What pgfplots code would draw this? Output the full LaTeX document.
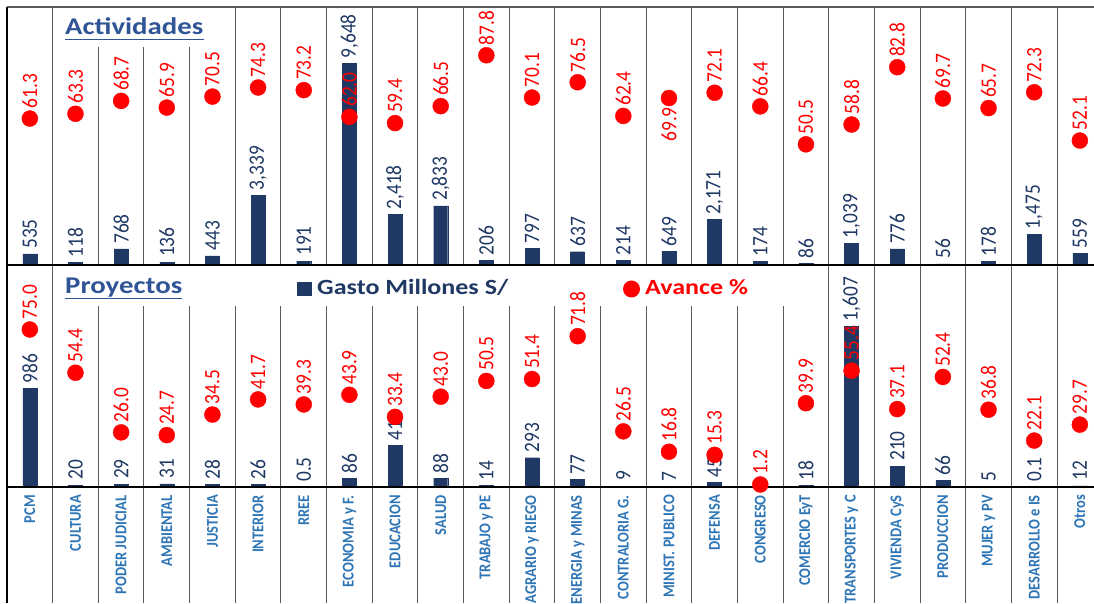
\documentclass[border=0pt]{standalone}
\usepackage{pgfplots}
\pgfplotsset{compat=1.18}
\usepackage{pgfplotstable}
\usepackage{fontspec}
\setmainfont{Carlito}
\newfontfamily\rotf[FakeStretch=0.88]{Carlito}
\newfontfamily\horf[FakeStretch=1.2]{Carlito}
\definecolor{navy}{RGB}{31,56,100}
\definecolor{titblue}{RGB}{47,85,151}
\definecolor{catblue}{RGB}{46,117,182}
\definecolor{sep}{RGB}{90,90,90}

\pgfplotstableread{
x g gl a
0 535 535 61.3
1 118 118 63.3
2 768 768 68.7
3 136 136 65.9
4 443 443 70.5
5 3339 3,339 74.3
6 191 191 73.2
7 9648 9,648 62.0
8 2418 2,418 59.4
9 2833 2,833 66.5
10 206 206 87.8
11 797 797 70.1
12 637 637 76.5
13 214 214 62.4
14 649 649 69.9
15 2171 2,171 72.1
16 174 174 66.4
17 86 86 50.5
18 1039 1,039 58.8
19 776 776 82.8
20 56 56 69.7
21 178 178 65.7
22 1475 1,475 72.3
23 559 559 52.1
}\act

\pgfplotstableread{
x g gl a
0 986 986 75.0
1 20 20 54.4
2 29 29 26.0
3 31 31 24.7
4 28 28 34.5
5 26 26 41.7
6 0.5 0.5 39.3
7 86 86 43.9
8 414 414 33.4
9 88 88 43.0
10 14 14 50.5
11 293 293 51.4
12 77 77 71.8
13 9 9 26.5
14 7 7 16.8
15 45 45 15.3
16 0 0 1.2
17 18 18 39.9
18 1607 1,607 55.4
19 210 210 37.1
20 66 66 52.4
21 5 5 36.8
22 0.1 0.1 22.1
23 12 12 29.7
}\proy

\pgfplotsset{
  panel/.style={scale only axis, width=1087pt, xmin=-0.5, xmax=23.31, ymin=0,
    axis line style={draw=none}, ytick=\empty, clip=false},
  barlbl/.style={nodes near coords, point meta=explicit symbolic,
    every node near coord/.append style={rotate=90, anchor=west, inner xsep=5pt, inner ysep=0pt,
      text=navy, font=\rotf\fontsize{22}{22}\selectfont}},
  dotlbl/.style={only marks, mark=*, mark size=8pt, mark options={fill=red, draw=red},
    nodes near coords, point meta=explicit symbolic,
    every node near coord/.append style={rotate=90, anchor=west, inner xsep=10pt, inner ysep=0pt,
      text=red, font=\rotf\fontsize{22}{22}\selectfont}},
}

\begin{document}
\begin{tikzpicture}
\useasboundingbox (0,0) rectangle (1094pt,603pt);
% top bars
\begin{axis}[panel, at={(7pt,338pt)}, anchor=south west, height=258pt, ymax=12360,
  ybar, bar width=14pt, bar shift=0pt,
  xtick={0,...,23}, xticklabels={}, minor xtick={0.5,1.5,...,22.5},
  xminorgrids, minor grid style={sep, line width=1pt}, tick style={draw=none}]
\addplot[fill=navy, draw=navy, barlbl] table[x=x, y=g, meta=gl] {\act};
\end{axis}
% bottom bars
\begin{axis}[panel, at={(7pt,116pt)}, anchor=south west, height=222pt, ymax=2220,
  ybar, bar width=14pt, bar shift=0pt,
  xtick={0,...,23},
  xticklabels={PCM, CULTURA, PODER JUDICIAL, AMBIENTAL, JUSTICIA, INTERIOR, RREE,
    ECONOMIA y F., EDUCACION, SALUD, TRABAJO y PE, AGRARIO y RIEGO, ENERGIA y MINAS,
    CONTRALORIA G., MINIST. PUBLICO, DEFENSA, CONGRESO, COMERCIO EyT, TRANSPORTES y C,
    VIVIENDA CyS, PRODUCCION, MUJER y PV, DESARROLLO e IS, Otros},
  xticklabel style={rotate=90, anchor=east, inner xsep=8pt, inner ysep=0pt, text=catblue,
    font=\rotf\bfseries\fontsize{16.5}{17}\selectfont},
  minor xtick={0.5,1.5,...,22.5},
  xminorgrids, minor grid style={sep, line width=1pt},
  xtick pos=bottom, tick align=outside, major tick length=0pt, minor tick length=116pt,
  major tick style={draw=none}, minor tick style={draw=sep, line width=1pt}]
\addplot[fill=navy, draw=navy, barlbl, skip coords between index={16}{17}] table[x=x, y=g, meta=gl] {\proy};
\end{axis}
% white boxes, titles and legend
\fill[white] (56pt,556pt) rectangle (233pt,595pt);
\fill[white] (56pt,297pt) rectangle (828pt,337pt);
\node[anchor=base west, inner sep=0pt, text=titblue, font=\horf\bfseries\fontsize{24}{24}\selectfont] (ta) at (65pt,568pt) {Actividades};
\draw[titblue, line width=1.5pt] ([yshift=-4.5pt]ta.base west) -- ([yshift=-4.5pt]ta.base east);
\node[anchor=base west, inner sep=0pt, text=titblue, font=\horf\bfseries\fontsize{24}{24}\selectfont] (tp) at (65pt,309pt) {Proyectos};
\draw[titblue, line width=1.5pt] ([yshift=-4.5pt]tp.base west) -- ([yshift=-4.5pt]tp.base east);
\fill[navy] (297pt,307pt) rectangle (312pt,321pt);
\node[anchor=base west, inner sep=0pt, text=navy, font=\horf\bfseries\fontsize{21.7}{22}\selectfont] at (317pt,308pt) {Gasto Millones S/};
\fill[red] (631.5pt,314pt) circle (8.5pt);
\node[anchor=base west, inner sep=0pt, text=red, font=\horf\bfseries\fontsize{21.7}{22}\selectfont] at (645pt,308pt) {Avance \%};
% frame
\draw[sep, line width=1.2pt] (7pt,596pt) -- (1094pt,596pt);
\draw[black, line width=1.2pt] (7pt,338pt) -- (1094pt,338pt);
\draw[black, line width=1.2pt] (7pt,116pt) -- (1094pt,116pt);
\draw[black, line width=1.2pt] (7pt,0pt) -- (7pt,596pt);
% top dots
\begin{axis}[panel, at={(7pt,338pt)}, anchor=south west, height=258pt, ymax=108,
  xtick=\empty]
\addplot[dotlbl, skip coords between index={14}{15}] table[x=x, y=a, meta=a] {\act};
\addplot[dotlbl, every node near coord/.append style={anchor=east, inner xsep=9pt},
  restrict x to domain=13.9:14.1] table[x=x, y=a, meta=a] {\act};
\end{axis}
% bottom dots
\begin{axis}[panel, at={(7pt,116pt)}, anchor=south west, height=222pt, ymax=105.7,
  xtick=\empty]
\addplot[dotlbl] table[x=x, y=a, meta=a] {\proy};
\end{axis}
\end{tikzpicture}
\end{document}
